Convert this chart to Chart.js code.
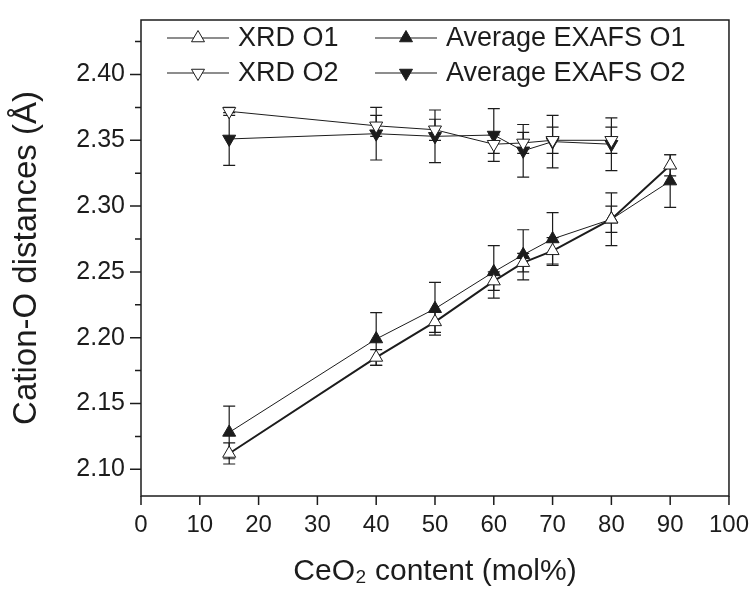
<!DOCTYPE html>
<html>
<head>
<meta charset="utf-8">
<script src="https://cdn.jsdelivr.net/npm/chart.js@4"></script>
<style>
  html, body { margin: 0; padding: 0; background: #fff; }
  #wrap { width: 755px; height: 592px; }
</style>
</head>
<body>
<div id="wrap"><canvas id="distChart" width="755" height="592"></canvas></div>
<script>
// CeO2 content (mol%)
const ceO2 = [15, 40, 50, 60, 65, 70, 80, 90];
const ceO2O2 = [15, 40, 50, 60, 65, 70, 80];

// cation-O distances (Å) and their error bars
const xrdO1 = [2.112, 2.185, 2.212, 2.243, 2.257, 2.266, 2.290, 2.331];
const xrdO1Err = [0.008, 0.006, 0.008, 0.007, 0.007, 0.010, 0.010, 0.008];
const exafsO1 = [2.128, 2.199, 2.222, 2.250, 2.263, 2.275, 2.290, 2.319];
const exafsO1Err = [0.020, 0.020, 0.020, 0.020, 0.019, 0.020, 0.020, 0.020];
const xrdO2 = [2.372, 2.361, 2.358, 2.347, 2.348, 2.350, 2.350];
const xrdO2Err = [0.003, 0.008, 0.008, 0.007, 0.008, 0.010, 0.010];
const exafsO2 = [2.351, 2.355, 2.353, 2.354, 2.342, 2.349, 2.347];
const exafsO2Err = [0.020, 0.020, 0.020, 0.020, 0.020, 0.020, 0.020];

const xTicks = [0, 10, 20, 30, 40, 50, 60, 70, 80, 90, 100];
const yTicks = [2.10, 2.15, 2.20, 2.25, 2.30, 2.35, 2.40];
const yMinorTicks = [2.125, 2.175, 2.225, 2.275, 2.325, 2.375, 2.425];

const INK = "#1c1c1c";
const FONT = "'Liberation Sans', Arial, Helvetica, sans-serif";

const toPoints = (xs, ys) => xs.map((x, i) => ({ x: x, y: ys[i] }));

function makeSet(label, xs, ys, errs, filled, down, width) {
    return {
        label: label,
        data: toPoints(xs, ys),
        errors: errs,
        borderColor: INK,
        borderWidth: width,
        backgroundColor: filled ? INK : "#fff",
        pointStyle: "triangle",
        pointRotation: down ? 180 : 0,
        pointRadius: 7.5,
        pointHoverRadius: 7.5,
        pointBorderColor: INK,
        pointBackgroundColor: filled ? INK : "#fff",
        pointBorderWidth: 1,
        tension: 0,
        fill: false
    };
}

const datasets = [
    makeSet("XRD O1", ceO2, xrdO1, xrdO1Err, false, false, 2),
    makeSet("Average EXAFS O1", ceO2, exafsO1, exafsO1Err, true, false, 1),
    makeSet("XRD O2", ceO2O2, xrdO2, xrdO2Err, false, true, 1),
    makeSet("Average EXAFS O2", ceO2O2, exafsO2, exafsO2Err, true, true, 1)
];

// error bars, drawn under the markers
const errorBars = {
    id: "errorBars",
    beforeDatasetsDraw(chart) {
        const ctx = chart.ctx;
        const ys = chart.scales.y;
        ctx.save();
        ctx.strokeStyle = INK;
        ctx.lineWidth = 1.2;
        chart.data.datasets.forEach((ds, i) => {
            const meta = chart.getDatasetMeta(i);
            meta.data.forEach((pt, j) => {
                const v = ds.data[j].y;
                const e = ds.errors[j];
                const top = ys.getPixelForValue(v + e);
                const bot = ys.getPixelForValue(v - e);
                ctx.beginPath();
                ctx.moveTo(pt.x, top);
                ctx.lineTo(pt.x, bot);
                ctx.moveTo(pt.x - 6, top);
                ctx.lineTo(pt.x + 6, top);
                ctx.moveTo(pt.x - 6, bot);
                ctx.lineTo(pt.x + 6, bot);
                ctx.stroke();
            });
        });
        ctx.restore();
    }
};

// frame, outward ticks and legend inside the plot
const frame = {
    id: "frame",
    afterDraw(chart) {
        const ctx = chart.ctx;
        const a = chart.chartArea;
        const xs = chart.scales.x;
        const ys = chart.scales.y;
        ctx.save();
        ctx.strokeStyle = INK;
        ctx.lineWidth = 1.5;
        ctx.strokeRect(a.left, a.top, a.right - a.left, a.bottom - a.top);

        ctx.beginPath();
        xTicks.forEach(v => {
            const px = xs.getPixelForValue(v);
            ctx.moveTo(px, a.bottom);
            ctx.lineTo(px, a.bottom + 9);
        });
        yTicks.forEach(v => {
            const py = ys.getPixelForValue(v);
            ctx.moveTo(a.left, py);
            ctx.lineTo(a.left - 11, py);
        });
        yMinorTicks.forEach(v => {
            const py = ys.getPixelForValue(v);
            if (py < a.top || py > a.bottom) return;
            ctx.moveTo(a.left, py);
            ctx.lineTo(a.left - 6, py);
        });
        ctx.stroke();

        // legend: two columns
        const cols = [[0, 2], [1, 3]];
        const colX = [167, 375];
        const rowY = [38, 73];
        ctx.font = "27px " + FONT;
        ctx.textBaseline = "middle";
        ctx.textAlign = "left";
        cols.forEach((list, c) => {
            list.forEach((di, r) => {
                const ds = chart.data.datasets[di];
                const x0 = colX[c];
                const y0 = rowY[r];
                ctx.strokeStyle = INK;
                ctx.lineWidth = 1.2;
                ctx.beginPath();
                ctx.moveTo(x0, y0);
                ctx.lineTo(x0 + 62, y0);
                ctx.stroke();
                ctx.fillStyle = ds.pointBackgroundColor;
                ctx.lineWidth = 1;
                Chart.helpers.drawPoint(ctx, {
                    pointStyle: "triangle",
                    radius: 7.5,
                    rotation: ds.pointRotation,
                    borderWidth: 1
                }, x0 + 31, y0);
                ctx.fillStyle = INK;
                ctx.fillText(ds.label, x0 + 71, y0 + 1);
            });
        });
        ctx.restore();
    }
};

new Chart(document.getElementById("distChart"), {
    type: "line",
    data: { datasets: datasets },
    options: {
        responsive: false,
        animation: false,
        events: [],
        layout: { padding: { top: 15, right: 25, left: 0, bottom: 0 } },
        plugins: {
            legend: { display: false },
            tooltip: { enabled: false }
        },
        scales: {
            x: {
                type: "linear",
                min: 0,
                max: 100,
                afterBuildTicks: (s) => { s.ticks = xTicks.map(v => ({ value: v })); },
                afterFit: (s) => { s.height = 96; },
                grid: { display: false, drawTicks: true, tickLength: 9 },
                border: { display: false },
                ticks: {
                    padding: 6,
                    color: INK,
                    font: { family: FONT, size: 24 },
                    maxRotation: 0
                },
                title: {
                    display: true,
                    text: "CeO\u2082 content (mol%)",
                    color: INK,
                    font: { family: FONT, size: 30 },
                    padding: { top: 0, bottom: 2 }
                }
            },
            y: {
                type: "linear",
                min: 2.0797,
                max: 2.4414,
                afterBuildTicks: (s) => { s.ticks = yTicks.map(v => ({ value: v })); },
                afterFit: (s) => { s.width = 141; },
                grid: { display: false, drawTicks: true, tickLength: 11 },
                border: { display: false },
                ticks: {
                    padding: 5,
                    color: INK,
                    font: { family: FONT, size: 25 },
                    callback: (v) => v.toFixed(2)
                },
                title: {
                    display: true,
                    text: "Cation-O distances (\u00c5)",
                    color: INK,
                    font: { family: FONT, size: 33 },
                    padding: { top: 7, bottom: 0 }
                }
            }
        }
    },
    plugins: [errorBars, frame]
});
</script>
</body>
</html>
